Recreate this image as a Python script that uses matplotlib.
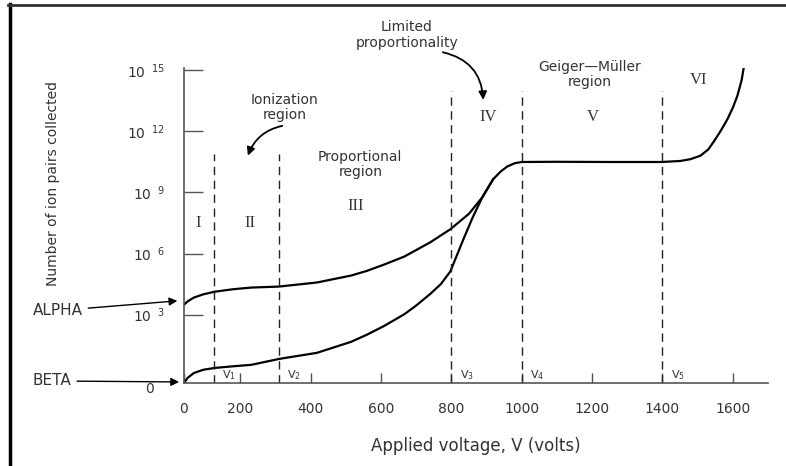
import matplotlib
matplotlib.use("Agg")
import matplotlib.pyplot as plt
from matplotlib.lines import Line2D

# applied voltage (V) and log10 of ion pairs collected
alpha_v = [40, 50, 68, 95, 128, 180, 231, 310, 418, 515, 560, 609, 666, 740, 797, 850,
           888, 905, 919, 940, 959, 980, 1000, 1100, 1250, 1397, 1451, 1480, 1508, 1530,
           1545, 1565, 1585, 1600, 1613, 1625, 1633]
alpha_n = [3.49, 3.65, 3.84, 4.0, 4.13, 4.25, 4.33, 4.38, 4.58, 4.92, 5.15, 5.46, 5.85,
           6.55, 7.19, 7.95, 8.76, 9.25, 9.65, 10.02, 10.27, 10.43, 10.49, 10.5, 10.49,
           10.49, 10.54, 10.63, 10.8, 11.1, 11.47, 12.0, 12.6, 13.15, 13.74, 14.5, 15.32]
beta_v = [40, 50, 68, 95, 128, 180, 231, 310, 418, 515, 560, 609, 666, 700, 740, 770,
          797, 834, 860, 888, 905, 919]
beta_n = [-0.35, -0.1, 0.14, 0.3, 0.39, 0.47, 0.54, 0.83, 1.13, 1.67, 2.02, 2.45, 3.02,
          3.45, 4.02, 4.5, 5.12, 6.69, 7.75, 8.76, 9.25, 9.65]

v_marks = [125, 310, 800, 1000, 1400]
v_tops = [10.88, 10.88, 13.98, 13.98, 13.98]
v_names = ["V$_1$", "V$_2$", "V$_3$", "V$_4$", "V$_5$"]

xticks = [40, 200, 400, 600, 800, 1000, 1200, 1400, 1600]
xlabels = ["0", "200", "400", "600", "800", "1000", "1200", "1400", "1600"]
yticks = [3, 6, 9, 12, 15]
ylabels = [r"10$^{\ \ 3}$", r"10$^{\ \ 6}$", r"10$^{\ \ 9}$", r"10$^{\ \ 12}$",
           r"10$^{\ \ 15}$"]

regions = ["I", "II", "III", "IV", "V", "VI"]
region_v = [80, 228, 527, 905, 1201, 1502]
region_n = [7.51, 7.51, 8.35, 12.68, 12.68, 14.5]

txt = "#333333"

fig = plt.figure(figsize=(7.86, 4.66), dpi=100)
ax = fig.add_axes([184/786, 83/466, 584/786, 315/466])

ax.plot(alpha_v, alpha_n, color="black", lw=1.6)
ax.plot(beta_v, beta_n, color="black", lw=1.6)

for v, top in zip(v_marks, v_tops):
    ax.plot([v, v], [-0.35, top], color="#222222", lw=1.0, dashes=(6, 4))
for v, name in zip(v_marks, v_names):
    ax.text(v + 24, -0.3, name, fontsize=8, color=txt, ha="left", va="bottom")

ax.set_xlim(40, 1700)
ax.set_ylim(-0.35, 15.1)
for s in ["top", "right"]:
    ax.spines[s].set_visible(False)
for s in ["left", "bottom"]:
    ax.spines[s].set_color("#555555")
    ax.spines[s].set_linewidth(1.2)

ax.set_xticks(xticks)
ax.set_xticklabels(xlabels, fontsize=10, color=txt)
ax.set_yticks(yticks)
ax.set_yticklabels(ylabels, fontsize=10, color=txt)
ax.tick_params(axis="x", direction="in", length=7, width=1, color="#555555", pad=14)
ax.tick_params(axis="y", direction="in", length=14, width=1, color="#555555", pad=14)

ax.text(-57, -0.65, "0", fontsize=10, color=txt, ha="center", va="center")

ax.set_xlabel("Applied voltage, V (volts)", fontsize=12, color=txt, labelpad=15)
fig.text(53/786, 1 - 183/466, "Number of ion pairs collected", rotation=90,
         fontsize=10, color=txt, ha="center", va="center")

for r, v, n in zip(regions, region_v, region_n):
    ax.text(v, n, r, fontsize=12, color=txt, ha="center", va="center",
            family="Liberation Serif")

ax.text(327, 13.18, "Ionization\nregion", fontsize=10, color=txt, ha="center",
        va="center", linespacing=1.1)
ax.text(541, 10.37, "Proportional\nregion", fontsize=10, color=txt, ha="center",
        va="center", linespacing=1.1)
ax.text(674, 16.72, "Limited\nproportionality", fontsize=10, color=txt, ha="center",
        va="center", linespacing=1.1, clip_on=False)
ax.text(1192, 14.8, "Geiger—Müller\nregion", fontsize=10, color=txt, ha="center",
        va="center", linespacing=1.1)

arrow = dict(arrowstyle="-|>", color="black", lw=1.3, mutation_scale=12)
ax.annotate("", xy=(219, 10.67), xytext=(327, 12.29),
            arrowprops=dict(arrow, connectionstyle="arc3,rad=0.3"))
ax.annotate("", xy=(891, 13.4), xytext=(768, 15.9), annotation_clip=False,
            arrowprops=dict(arrow, connectionstyle="arc3,rad=-0.4"))
ax.annotate("ALPHA", xy=(29, 3.69), xytext=(-390, 3.2), annotation_clip=False,
            fontsize=11, color=txt, ha="left", va="center",
            arrowprops=dict(arrowstyle="-|>", color="black", lw=1.0, mutation_scale=12))
ax.annotate("BETA", xy=(34, -0.3), xytext=(-390, -0.25), annotation_clip=False,
            fontsize=11, color=txt, ha="left", va="center",
            arrowprops=dict(arrowstyle="-|>", color="black", lw=1.0, mutation_scale=12))

# frame of the scanned figure
fig.add_artist(Line2D([9.5/786, 9.5/786], [0, 1 - 4/466], color="black", lw=2.5))
fig.add_artist(Line2D([8/786, 1], [1 - 4.5/466, 1 - 4.5/466], color="#333333", lw=2))

fig.savefig("out.png", dpi=100)
